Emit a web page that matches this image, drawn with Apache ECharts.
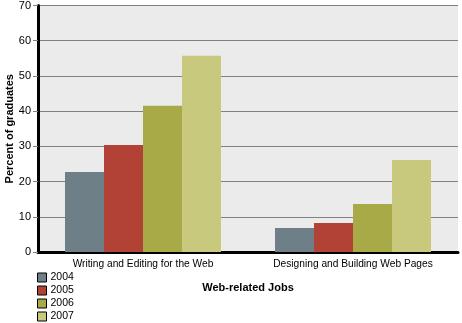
<!DOCTYPE html>
<html><head><meta charset="utf-8">
<script src="https://cdn.jsdelivr.net/npm/echarts@6/dist/echarts.min.js"></script>
<style>html,body{margin:0;padding:0;background:#fff}#c{width:462px;height:323px}</style>
</head><body><div id="c"></div>
<script>
const categories = ["Writing and Editing for the Web", "Designing and Building Web Pages"];
const years = ["2004", "2005", "2006", "2007"];
const v2004 = [22.7, 6.8];
const v2005 = [30.4, 8.2];
const v2006 = [41.5, 13.6];
const v2007 = [55.7, 26.1];
const colors = ["#6e7f87", "#b34236", "#a8a947", "#c8c97d"];
const values = [v2004, v2005, v2006, v2007];
const font = "Liberation Sans, Arial, sans-serif";
const chart = echarts.init(document.getElementById('c'));
chart.setOption({
  animation: false,
  backgroundColor: '#fff',
  textStyle: {fontFamily: font},
  grid: {left: 38, right: 4, top: 5.5, bottom: 71, show: true, backgroundColor: '#ebebeb', borderWidth: 0,
         containLabel: false, outerBoundsMode: 'none'},
  legend: {
    orient: 'vertical', left: 37, top: 272, height: 60, itemWidth: 9, itemHeight: 9, itemGap: 2,
    padding: 0, icon: 'rect', data: years,
    textStyle: {fontFamily: font, fontSize: 10.5, color: '#000', padding: [0,0,0,-1]},
    itemStyle: {borderColor: '#000', borderWidth: 1}
  },
  xAxis: {
    type: 'category', data: categories,
    name: 'Web-related Jobs', nameLocation: 'middle', nameGap: 30, nameMoveOverlap: false,
    nameTextStyle: {fontFamily: font, fontSize: 11, fontWeight: 'bold', color: '#000'},
    axisLine: {lineStyle: {color: '#000', width: 3}},
    axisTick: {alignWithLabel: true, length: 5, lineStyle: {color: '#000', width: 1}},
    axisLabel: {fontFamily: font, fontSize: 10.2, color: '#000', margin: 7, interval: 0}
  },
  yAxis: {
    type: 'value', min: 0, max: 70, interval: 10,
    name: 'Percent of graduates', nameLocation: 'middle', nameGap: 23, nameMoveOverlap: false,
    nameTextStyle: {fontFamily: font, fontSize: 11, fontWeight: 'bold', color: '#000'},
    axisLine: {show: true, lineStyle: {color: '#000', width: 3}},
    axisTick: {show: true, length: 5, lineStyle: {color: '#808080', width: 1}},
    axisLabel: {fontFamily: font, fontSize: 11, color: '#000', margin: 7},
    splitLine: {lineStyle: {color: '#808080', width: 1}}
  },
  series: years.map((y, i) => ({
    name: y, type: 'bar', data: values[i], barWidth: 39, barGap: '0%',
    itemStyle: {color: colors[i]}
  }))
});
</script></body></html>
